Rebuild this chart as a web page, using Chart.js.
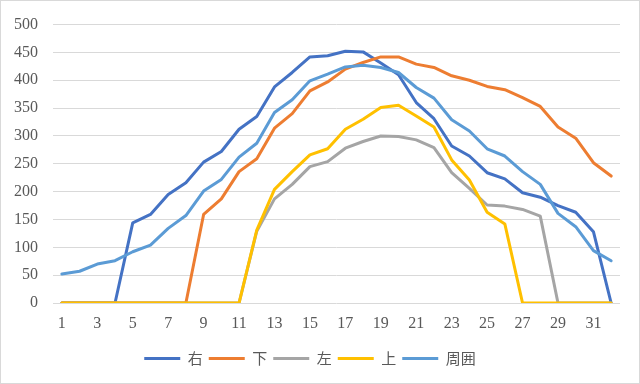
<!DOCTYPE html>
<html>
<head>
<meta charset="utf-8">
<script src="https://cdn.jsdelivr.net/npm/chart.js@4"></script>
<style>
html,body{margin:0;padding:0;background:#fff;}
#wrap{width:640px;height:384px;position:relative;}
</style>
</head>
<body>
<div id="wrap"><canvas id="c" width="640" height="384"></canvas></div>
<script>
const categories = ['1','2','3','4','5','6','7','8','9','10','11','12','13','14','15','16','17','18','19','20','21','22','23','24','25','26','27','28','29','30','31','32'];
const seriesNames = ['右','下','左','上','周囲'];
const migi   = [0,0,0,0,144,159,195,216,253,272,312,335,388,414,442,444,452,451,431,410,360,331,282,264,234,223,198,190,175,163,128,0];
const shita  = [0,0,0,0,0,0,0,0,159,187,236,259,314,340,381,397,420,432,442,442,429,423,408,400,389,383,369,353,316,296,252,228];
const hidari = [0,0,0,0,0,0,0,0,0,0,0,129,187,213,245,254,278,290,300,299,293,279,234,206,176,174,168,156,0,0,0,0];
const ue     = [0,0,0,0,0,0,0,0,0,0,0,131,204,236,266,277,312,330,351,355,336,316,257,221,163,142,0,0,0,0,0,0];
const shui   = [52,57,70,76,92,104,134,157,201,222,262,287,342,365,399,411,424,427,423,414,387,368,329,309,277,264,236,213,161,137,94,76];
const yTicks = [0,50,100,150,200,250,300,350,400,450,500];

const colors = ['#4472C4','#ED7D31','#A5A5A5','#FFC000','#5B9BD5'];
const values = [migi, shita, hidari, ue, shui];

const datasets = values.map((v,i)=>({
  label: seriesNames[i],
  data: v,
  borderColor: colors[i],
  backgroundColor: colors[i],
  borderWidth: 3,
  pointRadius: 0,
  pointHoverRadius: 0,
  borderJoinStyle: 'round',
  borderCapStyle: 'round',
  tension: 0,
  fill: false,
  order: values.length - i
}));

const borderPlugin = {
  id: 'outerBorder',
  afterDraw(chart){
    const ctx = chart.ctx;
    ctx.save();
    ctx.strokeStyle = '#D9D9D9';
    ctx.lineWidth = 1;
    ctx.strokeRect(0.5,0.5,chart.width-1,chart.height-1);
    ctx.restore();
  }
};

new Chart(document.getElementById('c'), {
  type: 'line',
  data: { labels: categories, datasets },
  plugins: [borderPlugin],
  options: {
    responsive: false,
    animation: false,
    devicePixelRatio: 1,
    layout: { padding: { left: 0, right: 20, top: 9, bottom: 8 } },
    plugins: {
      tooltip: { enabled: false },
      legend: {
        position: 'bottom',
        labels: {
          sort: (a,b) => a.datasetIndex - b.datasetIndex,
          usePointStyle: true,
          pointStyle: 'line',
          pointStyleWidth: 36,
          boxHeight: 15,
          padding: 6,
          color: '#595959',
          font: { family: '"Noto Sans CJK JP", sans-serif', size: 15 }
        }
      }
    },
    scales: {
      x: {
        offset: true,
        grid: { display: false, drawTicks: false },
        border: { display: false },
        ticks: {
          autoSkip: false,
          maxRotation: 0,
          padding: 11,
          color: '#595959',
          font: { family: '"Liberation Serif", serif', size: 16 },
          callback: function(val, idx){ return idx % 2 === 0 ? categories[idx] : ''; }
        },
        afterFit: function(s){ s.height = 42; }
      },
      y: {
        min: 0,
        max: 500,
        afterBuildTicks: function(s){ s.ticks = yTicks.map(v=>({value:v})); },
        grid: { color: '#D9D9D9', lineWidth: 1, drawTicks: false },
        border: { display: false },
        ticks: {
          padding: 15,
          color: '#595959',
          font: { family: '"Liberation Serif", serif', size: 16 }
        },
        afterFit: function(s){ s.width = 53; }
      }
    }
  }
});
</script>
</body>
</html>
